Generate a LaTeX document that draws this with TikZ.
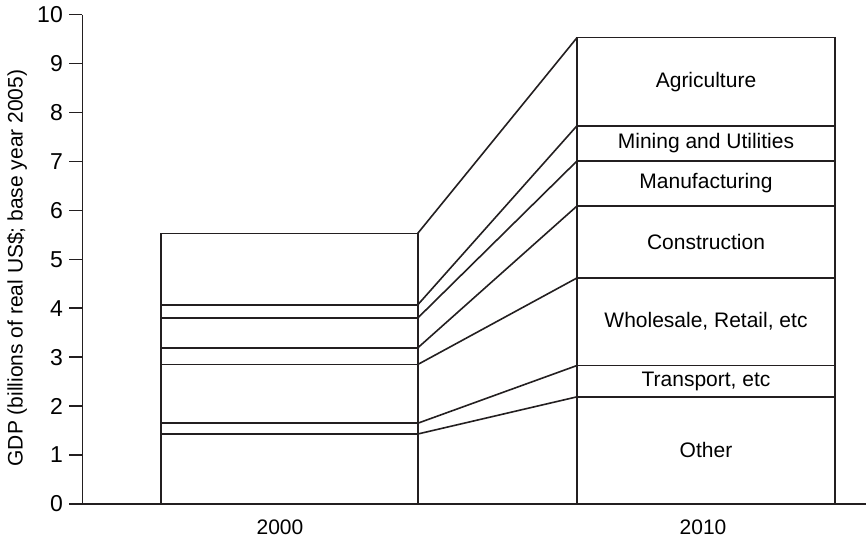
\documentclass[tikz,border=0pt]{standalone}
\usepackage{fontspec}
\setmainfont{Liberation Sans}
\definecolor{ink}{HTML}{231F20}
\tikzset{
  axisline/.style={draw=ink, line width=1.6bp},
  barline/.style={draw=ink, line width=1.6bp},
  flowline/.style={draw=ink, line width=1.6bp},
  seglabel/.style={inner sep=0pt, text=black},
  ticklabel/.style={anchor=east, inner sep=0pt, text=black, font=\fontsize{23bp}{27bp}\selectfont}
}
\begin{document}
\begin{tikzpicture}[x=1bp, y=1bp, font=\fontsize{21bp}{25bp}\selectfont]
\useasboundingbox (0,0) rectangle (866,541);
\begin{scope}[yshift=37bp, y=48.93bp]
  % axes
  \coordinate (ytop) at (82.3,10);
  \coordinate (origin) at (82.3,0);
  \coordinate (xend) at (866,0);
  \draw[axisline] (ytop) -- (origin) -- (xend);
  \foreach \v in {0,...,10} {
    \coordinate (tk\v) at (69.3,\v);
    \coordinate (ta\v) at (82.3,\v);
    \draw[axisline] (tk\v) -- (ta\v);
    \node[ticklabel] (tl\v) at (63,\v) {\v};
  }
  \node[rotate=90, inner sep=0pt] (ylab) at (17,4.823) {GDP (billions of real US\$; base year 2005)};
  \node[inner sep=0pt] (x2000) at (280,-0.47) {2000};
  \node[inner sep=0pt] (x2010) at (703,-0.47) {2010};

  % left bar (2000)
  \draw[barline] (160.7,0) rectangle (417.7,5.53);
  \foreach \i/\v in {1/1.43,2/1.65,3/2.85,4/3.19,5/3.80,6/4.07,7/5.53} {
    \coordinate (La\i) at (160.7,\v);
    \coordinate (L\i) at (417.7,\v);
  }
  \foreach \i in {1,...,6} { \draw[barline] (La\i) -- (L\i); }

  % right bar (2010)
  \draw[barline] (577,0) rectangle (835,9.53);
  \foreach \i/\v in {1/2.19,2/2.83,3/4.62,4/6.09,5/7.01,6/7.73,7/9.53} {
    \coordinate (R\i) at (577,\v);
    \coordinate (Rb\i) at (835,\v);
  }
  \foreach \i in {1,...,6} { \draw[barline] (R\i) -- (Rb\i); }

  % connectors
  \foreach \i in {1,...,7} { \draw[flowline] (L\i) -- (R\i); }

  % labels
  \node[seglabel] (agri) at (706,8.63) {Agriculture};
  \node[seglabel] (mining) at (706,7.37) {Mining and Utilities};
  \node[seglabel] (manu) at (706,6.55) {Manufacturing};
  \node[seglabel] (constr) at (706,5.355) {Construction};
  \node[seglabel] (whole) at (706,3.725) {Wholesale, Retail, etc};
  \node[seglabel] (trans) at (706,2.51) {Transport, etc};
  \node[seglabel] (other) at (706,1.095) {Other};
\end{scope}
\end{tikzpicture}
\end{document}
